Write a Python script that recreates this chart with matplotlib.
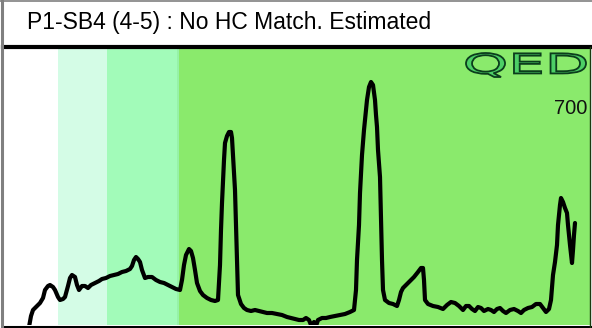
import numpy as np
import matplotlib.pyplot as plt
from matplotlib.textpath import TextPath
from matplotlib.patches import PathPatch
from matplotlib.font_manager import FontProperties
from matplotlib.transforms import Affine2D
from matplotlib.lines import Line2D

# trace position (x) and detector signal (height above baseline)
trace_x = [29, 31, 33, 37, 40, 43, 45, 48, 50, 53, 55, 58, 60, 63, 65, 68, 70, 72, 75, 77,
           79, 82, 85, 88, 91, 95, 99, 102, 106, 110, 114, 118, 122, 126, 130, 132, 134, 136,
           138, 140, 142, 145, 148, 152, 156, 160, 164, 168, 172, 176, 180, 182, 184, 186,
           189, 191, 193, 195, 197, 200, 203, 207, 211, 215, 218, 220, 221, 222, 224, 225,
           227, 229, 231, 232, 233, 235, 236, 237, 238, 241, 244, 247, 251, 255, 259, 263,
           267, 272, 277, 282, 287, 291, 295, 299, 303, 306, 309, 311, 312, 314, 316, 318,
           322, 326, 330, 335, 340, 345, 350, 354, 356, 357, 359, 360, 362, 364, 365, 367,
           369, 371, 373, 375, 376, 377, 378, 380, 381, 382, 383, 385, 389, 393, 397, 399,
           401, 403, 406, 410, 414, 418, 421, 423, 424, 425, 428, 433, 438, 443, 447, 451,
           455, 459, 463, 466, 469, 472, 475, 478, 481, 484, 488, 491, 494, 497, 500, 503,
           506, 510, 514, 518, 521, 524, 528, 532, 536, 540, 543, 546, 549, 551, 553, 555,
           557, 558, 560, 561, 563, 565, 567, 568, 570, 572, 573, 574, 575]
trace_px = [327, 316, 310, 306, 303, 298, 290, 286, 285, 287, 290, 297, 300, 299, 297, 286,
            278, 275, 277, 285, 290, 286, 286, 288, 285, 283, 281, 279, 278, 276, 275, 274,
            272, 271, 269, 266, 260, 257, 259, 262, 270, 278, 277, 277, 280, 282, 283, 285,
            287, 289, 290, 280, 265, 255, 249, 251, 258, 270, 283, 291, 295, 298, 300, 301,
            300, 265, 230, 203, 160, 143, 136, 132, 132, 138, 155, 190, 225, 260, 295, 304,
            308, 310, 311, 310, 311, 312, 313, 313, 314, 315, 317, 318, 319, 320, 320, 318,
            320, 325, 327, 322, 326, 320, 318, 318, 317, 316, 315, 314, 312, 310, 290, 260,
            225, 193, 155, 130, 120, 100, 87, 82, 85, 100, 115, 127, 150, 177, 220, 260, 290,
            300, 303, 304, 306, 300, 292, 288, 285, 281, 277, 272, 268, 268, 280, 300, 304,
            306, 307, 309, 305, 302, 303, 306, 310, 306, 306, 309, 311, 307, 308, 311, 309,
            310, 312, 309, 308, 311, 313, 310, 309, 311, 313, 310, 308, 307, 304, 304, 308,
            312, 309, 300, 275, 262, 245, 225, 205, 198, 202, 208, 213, 225, 245, 263, 250,
            235, 223]
trace_y = [328 - v for v in trace_px]

# shaded zones along x
zone_edges = [5, 58, 107, 177, 179, 590]
zone_colors = ["#ffffff", "#d4fce6", "#a2fbb9", "#96f2a8", "#8aea6c"]

title = "P1-SB4 (4-5) : No HC Match. Estimated"
scale_label = "700"

W, H = 592, 328
fig = plt.figure(figsize=(W / 100, H / 100), dpi=100)
fig.patch.set_facecolor("white")

ax = fig.add_axes([5 / W, 3 / H, 585 / W, 276 / H])
ax.set_xlim(5, 590)
ax.set_ylim(3, 279)
ax.axis("off")

for x0, x1, c in zip(zone_edges[:-1], zone_edges[1:], zone_colors):
    ax.axvspan(x0, x1, color=c, lw=0, zorder=0)

ax.plot(trace_x, trace_y, color="black", lw=3.0, solid_joinstyle="round",
        solid_capstyle="round", zorder=3, clip_on=True)

ax.text(587, 328 - 108, scale_label, ha="right", va="center",
        fontsize=14.5, family="Liberation Sans", color="#111111", zorder=4)

# QED logo: stretched outlined letters
fp = FontProperties(family="DejaVu Sans", weight="normal")
tp = TextPath((0, 0), "QED", size=10, prop=fp)
bb = tp.get_extents()
tx0, tx1, ty0, ty1 = 466, 586, 328 - 77, 328 - 53
tr = (Affine2D().translate(-bb.x0, -bb.y0)
      .scale((tx1 - tx0) / bb.width, (ty1 - ty0) / bb.height)
      .translate(tx0, ty0))
logo = PathPatch(tr.transform_path(tp), facecolor="#4ccf66", edgecolor="#0b3d1c",
                 lw=1.3, zorder=4)
ax.add_patch(logo)

# frame lines
fig.add_artist(Line2D([3 / W, 1], [1 - 47 / H, 1 - 47 / H], color="black", lw=3.0))
fig.add_artist(Line2D([3 / W, 1], [1.5 / H, 1.5 / H], color="black", lw=2.2))
fig.add_artist(Line2D([589.5 / W, 589.5 / W], [1.5 / H, 1 - 47 / H], color="#1a3a10", lw=1.0))
fig.add_artist(Line2D([1.5 / W, 1.5 / W], [0, 1], color="#808080", lw=2.2))
fig.add_artist(Line2D([0, 1], [1 - 0.8 / H, 1 - 0.8 / H], color="#808080", lw=1.2))

fig.text(27 / W, 1 - 22 / H, title, ha="left", va="center", fontsize=16.5,
         family="Liberation Sans", color="black")

fig.savefig("out.png", dpi=100, facecolor=fig.get_facecolor())
